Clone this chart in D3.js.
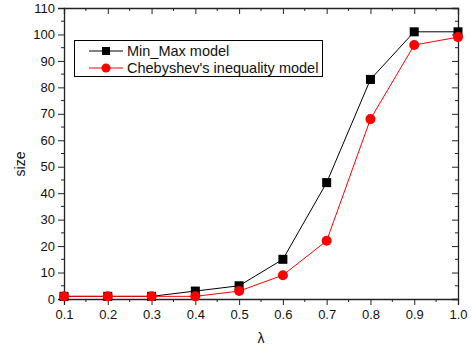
<!DOCTYPE html>
<html>
<head>
<meta charset="utf-8">
<script src="https://cdn.jsdelivr.net/npm/d3@7"></script>
<style>
  body { margin: 0; background: white; }
  svg text { font-family: "Liberation Sans", Arial, sans-serif; fill: #111; }
</style>
</head>
<body>
<div id="viz"></div>
<script>
const lambdas = [0.1, 0.2, 0.3, 0.4, 0.5, 0.6, 0.7, 0.8, 0.9, 1.0];
const minMax = [1, 1, 1, 3, 5, 15, 44, 83, 101, 101];
const chebyshev = [1, 1, 1, 1, 3, 9, 22, 68, 96, 99];
const seriesNames = ["Min_Max model", "Chebyshev's inequality model"];
const xTicks = [0.1, 0.2, 0.3, 0.4, 0.5, 0.6, 0.7, 0.8, 0.9, 1.0];
const yTicks = [0, 10, 20, 30, 40, 50, 60, 70, 80, 90, 100, 110];

const width = 471, height = 350;
const margin = { top: 8, right: 13, bottom: 51, left: 64 };

const svg = d3.select("#viz").append("svg")
    .attr("width", width)
    .attr("height", height);

const x = d3.scaleLinear()
    .domain([0.1, 1.0])
    .range([margin.left, width - margin.right]);

const y = d3.scaleLinear()
    .domain([0, 110])
    .range([height - margin.bottom, margin.top]);

const xMinor = d3.range(0.15, 1.0, 0.1);
const yMinor = d3.range(5, 110, 10);
const axisColor = "#222";

// Bottom axis (ticks outward)
const bottomAxis = svg.append("g").attr("transform", `translate(0,${y(0)})`);
bottomAxis.call(d3.axisBottom(x).tickValues(xTicks).tickFormat(d3.format(".1f")).tickSize(6).tickPadding(5));
bottomAxis.append("g").selectAll("line").data(xMinor).enter().append("line")
    .attr("x1", d => x(d)).attr("x2", d => x(d)).attr("y1", 0).attr("y2", 3)
    .attr("stroke", axisColor);

// Left axis
const leftAxis = svg.append("g").attr("transform", `translate(${x(0.1)},0)`);
leftAxis.call(d3.axisLeft(y).tickValues(yTicks).tickSize(6).tickPadding(3));
leftAxis.append("g").selectAll("line").data(yMinor).enter().append("line")
    .attr("y1", d => y(d)).attr("y2", d => y(d)).attr("x1", 0).attr("x2", -3)
    .attr("stroke", axisColor);

// Top axis (ticks inward)
const topAxis = svg.append("g").attr("transform", `translate(0,${y(110)})`);
topAxis.call(d3.axisBottom(x).tickValues(xTicks).tickFormat("").tickSize(6));
topAxis.append("g").selectAll("line").data(xMinor).enter().append("line")
    .attr("x1", d => x(d)).attr("x2", d => x(d)).attr("y1", 0).attr("y2", 3)
    .attr("stroke", axisColor);

// Right axis (ticks inward)
const rightAxis = svg.append("g").attr("transform", `translate(${x(1.0)},0)`);
rightAxis.call(d3.axisLeft(y).tickValues(yTicks).tickFormat("").tickSize(6));
rightAxis.append("g").selectAll("line").data(yMinor).enter().append("line")
    .attr("y1", d => y(d)).attr("y2", d => y(d)).attr("x1", 0).attr("x2", -3)
    .attr("stroke", axisColor);

svg.selectAll(".domain").attr("stroke", axisColor).attr("stroke-width", 1.3);
svg.selectAll(".tick line").attr("stroke", axisColor);
svg.selectAll(".tick text").style("font-size", "13px").attr("fill", "#111");

// Axis titles
svg.append("text")
    .attr("transform", "translate(25,164) rotate(-90)")
    .attr("text-anchor", "middle")
    .style("font-size", "14px")
    .text("size");

svg.append("text")
    .attr("x", (x(0.1) + x(1.0)) / 2)
    .attr("y", 343)
    .attr("text-anchor", "middle")
    .style("font-size", "14px")
    .text("λ");

// Lines and markers
const line = d3.line().x((d, i) => x(lambdas[i])).y(d => y(d));

svg.append("path").datum(minMax)
    .attr("d", line).attr("fill", "none").attr("stroke", "black").attr("stroke-width", 1);
svg.append("path").datum(chebyshev)
    .attr("d", line).attr("fill", "none").attr("stroke", "red").attr("stroke-width", 1);

svg.append("g").selectAll("rect").data(minMax).enter().append("rect")
    .attr("x", (d, i) => x(lambdas[i]) - 4.5)
    .attr("y", d => y(d) - 4.5)
    .attr("width", 9).attr("height", 9)
    .attr("fill", "black");

svg.append("g").selectAll("circle").data(chebyshev).enter().append("circle")
    .attr("cx", (d, i) => x(lambdas[i]))
    .attr("cy", d => y(d))
    .attr("r", 5)
    .attr("fill", "red");

// Legend
const legend = svg.append("g");
legend.append("rect")
    .attr("x", 74.5).attr("y", 40.5).attr("width", 248).attr("height", 36)
    .attr("fill", "white").attr("stroke", "black").attr("stroke-width", 1);

const legendRows = [
    { name: seriesNames[0], color: "black", shape: "square", y: 51 },
    { name: seriesNames[1], color: "red", shape: "circle", y: 68 }
];
legendRows.forEach(r => {
    legend.append("line")
        .attr("x1", 89).attr("x2", 123).attr("y1", r.y).attr("y2", r.y)
        .attr("stroke", r.color);
    if (r.shape === "square") {
        legend.append("rect").attr("x", 102).attr("y", r.y - 4)
            .attr("width", 8).attr("height", 8).attr("fill", r.color);
    } else {
        legend.append("circle").attr("cx", 106).attr("cy", r.y).attr("r", 4.5).attr("fill", r.color);
    }
    legend.append("text")
        .attr("x", 127).attr("y", r.y)
        .attr("dy", "0.35em")
        .style("font-size", "14.5px")
        .text(r.name);
});
</script>
</body>
</html>
